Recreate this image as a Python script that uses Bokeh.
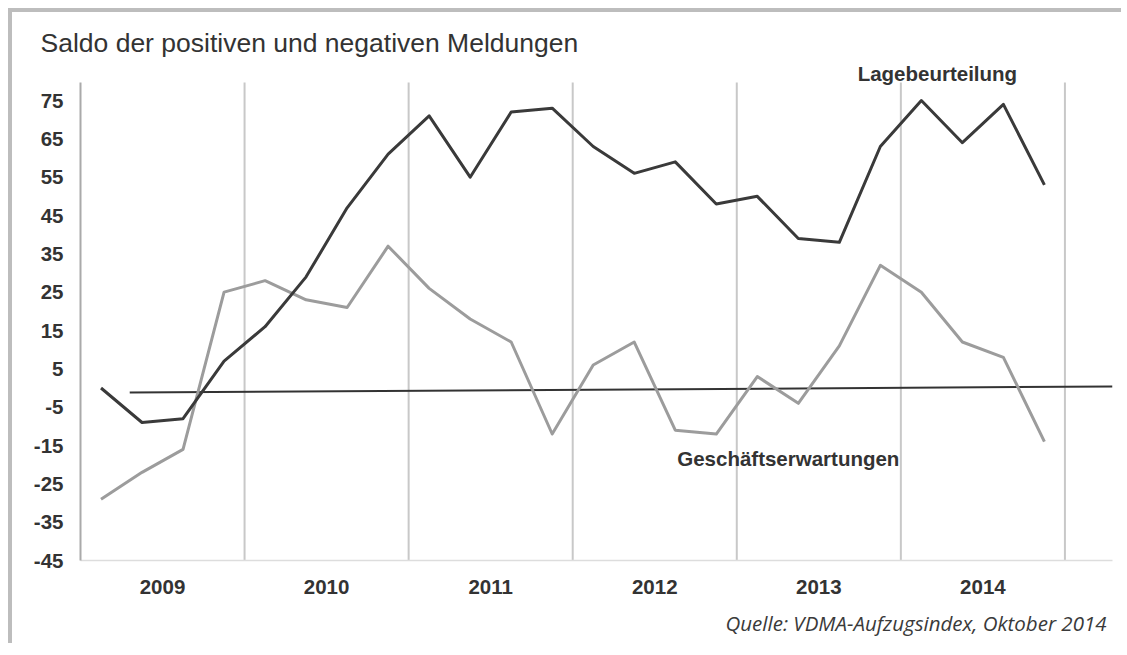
from bokeh.plotting import figure
from bokeh.models import FixedTicker, Label, Title, Range1d
from bokeh.embed import file_html
from bokeh.resources import INLINE

# ---- data -------------------------------------------------------------
years = [2009, 2010, 2011, 2012, 2013, 2014]
quarters_per_year = 4
# quarterly values, 2009 Q1 ... 2014 Q4
lage = [0, -9, -8, 7, 16, 29, 47, 61,
        71, 55, 72, 73, 63, 56, 59, 48,
        50, 39, 38, 63, 75, 64, 74, 53]
erwartung = [-29, -22, -16, 25, 28, 23, 21, 37,
             26, 18, 12, -12, 6, 12, -11, -12,
             3, -4, 11, 32, 25, 12, 8, -14]
baseline_x = [2009.3, 2015.29]
baseline_y = [-1.2, 0.4]
y_ticks = [75, 65, 55, 45, 35, 25, 15, 5, -5, -15, -25, -35, -45]
year_labels = [str(y) for y in years]

title_text = "Saldo der positiven und negativen Meldungen"
label_lage = "Lagebeurteilung"
label_erw = "Geschäftserwartungen"
source_text = "Quelle: VDMA-Aufzugsindex, Oktober 2014"

# quarter centres on a continuous year axis
xq = [y + (q + 0.5) / quarters_per_year for y in years for q in range(quarters_per_year)]
separators = years[1:] + [years[-1] + 1]

# ---- figure -----------------------------------------------------------
FONT = "Liberation Sans"
LBL = "20.5px"
x0, x1 = 2009.0, 2015.29
y0, y_axis_top, y1 = -45, 79.7, 85.44
p = figure(width=1113, height=635, output_backend="svg", toolbar_location=None,
           x_range=Range1d(x0, x1), y_range=Range1d(y0, y1),
           min_border_left=68, min_border_right=13, min_border_top=48,
           min_border_bottom=87, background_fill_color="white",
           border_fill_color="white", outline_line_color=None)
p.styles = {"border-top": "4px solid #bdbdbd", "border-left": "4px solid #bdbdbd",
            "margin-left": "8px", "margin-top": "8px"}

p.title = Title(text=title_text, text_font=FONT, text_font_size="26.5px",
                text_font_style="normal", text_color="#333333", align="left",
                offset=-40, standoff=6)

# axes
p.xaxis.ticker = FixedTicker(ticks=[y + 0.5 for y in years])
p.xaxis.major_label_overrides = {y + 0.5: s for y, s in zip(years, year_labels)}
p.xaxis.major_label_text_font = FONT
p.xaxis.major_label_text_font_style = "bold"
p.xaxis.major_label_text_font_size = LBL
p.xaxis.major_label_text_color = "#333333"
p.xaxis.major_label_standoff = 13
p.xaxis.major_tick_line_color = None
p.xaxis.minor_tick_line_color = None
p.xaxis.axis_line_color = "#dddddd"
p.xaxis.axis_line_width = 1.5

p.yaxis.ticker = FixedTicker(ticks=y_ticks)
p.yaxis.major_label_overrides = {t: str(t) for t in y_ticks}
p.yaxis.bounds = (y0, y_axis_top)
p.yaxis.major_label_text_font = FONT
p.yaxis.major_label_text_font_style = "bold"
p.yaxis.major_label_text_font_size = LBL
p.yaxis.major_label_text_color = "#333333"
p.yaxis.major_label_standoff = 11
p.yaxis.major_tick_line_color = None
p.yaxis.minor_tick_line_color = None
p.yaxis.axis_line_color = "#aaaaaa"
p.yaxis.axis_line_width = 2

p.xgrid.visible = False
p.ygrid.visible = False

# vertical year separators
p.segment(x0=separators, y0=[y0] * len(separators), x1=separators,
          y1=[y_axis_top] * len(separators), line_color="#c8c8c8", line_width=2)

# lines
p.line(baseline_x, baseline_y, line_color="#333333", line_width=2)
p.line(xq, erwartung, line_color="#9c9c9c", line_width=3, line_join="round")
p.line(xq, lage, line_color="#3a3a3a", line_width=3, line_join="round")

# annotations
p.add_layout(Label(x=2009 + (937 - 80.5) / 164, y=75 + (100 - 73) / 3.833,
                   text=label_lage, text_font=FONT, text_font_style="bold",
                   text_font_size=LBL, text_color="#333333",
                   text_align="center", text_baseline="middle"))
p.add_layout(Label(x=2009 + (788 - 80.5) / 164, y=(387.5 - 458) / 3.833,
                   text=label_erw, text_font=FONT, text_font_style="bold",
                   text_font_size=LBL, text_color="#333333",
                   text_align="center", text_baseline="middle"))
p.add_layout(Title(text=source_text, text_font="Open Sans", text_font_style="italic",
                   text_font_size="20.5px", text_color="#3a3a3a", align="right",
                   offset=6, standoff=20), "below")

open("out.html", "w").write(file_html(p, INLINE))
